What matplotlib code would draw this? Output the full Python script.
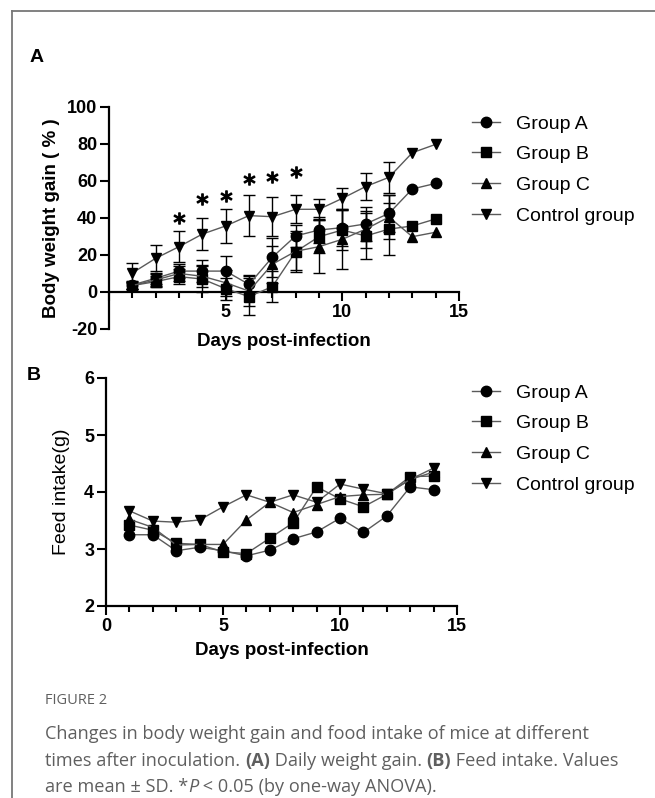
import numpy as np
import matplotlib.pyplot as plt
from matplotlib.lines import Line2D
from matplotlib.ticker import MultipleLocator

plt.rcParams["axes.unicode_minus"] = False

### Data ###
days = np.arange(1, 15)
groups = ["Group A", "Group B", "Group C", "Control group"]
markers = ["o", "s", "^", "v"]

# (A) body weight gain (%), mean and SD
gain_a = [3.8, 7.4, 11.3, 11.3, 11.3, 4.1, 18.8, 30.3, 33.5, 34.8, 36.8, 42.5, 55.7, 58.7]
gain_b = [3.5, 5.6, 8.3, 7.0, 1.8, -2.5, 2.9, 21.8, 29.9, 33.5, 30.3, 34.0, 35.7, 39.5]
gain_c = [3.5, 6.5, 10.0, 8.5, 5.0, 0.5, 15.0, 22.0, 24.5, 28.5, 34.0, 40.5, 29.9, 32.3]
gain_ctrl = [10.3, 18.2, 24.5, 31.3, 35.7, 41.3, 40.7, 44.7, 44.7, 50.6, 57.0, 62.0, 75.3, 79.8]
sd_a = [2, 3, 4, 6, 8, 5, 10.5, 6, 7, 10, 9, 10, 0, 0]
sd_b = [2, 3, 4, 7, 6, 10, 8.5, 11, 9, 11, 12.5, 14, 0, 0]
sd_c = [2, 3, 4, 6, 7, 8, 10, 10, 14.5, 16, 10, 12, 0, 0]
sd_ctrl = [5.5, 7, 8.5, 8.5, 9, 11, 10.5, 7.5, 5.5, 5.5, 7.5, 8.5, 0, 0]
star_days = [3, 4, 5, 6, 7, 8]
star_y = [40, 50, 52, 61, 62.3, 65]

# (B) feed intake (g)
feed_a = [3.25, 3.25, 2.97, 3.03, 2.97, 2.88, 2.98, 3.18, 3.30, 3.54, 3.29, 3.58, 4.09, 4.04]
feed_b = [3.42, 3.33, 3.10, 3.08, 2.95, 2.92, 3.19, 3.46, 4.09, 3.88, 3.74, 3.96, 4.27, 4.28]
feed_c = [3.52, 3.38, 3.07, 3.08, 3.08, 3.51, 3.82, 3.64, 3.78, 3.92, 3.95, 3.96, 4.22, 4.35]
feed_ctrl = [3.67, 3.49, 3.47, 3.51, 3.74, 3.95, 3.82, 3.95, 3.82, 4.14, 4.05, 3.97, 4.22, 4.42]

FONT = "Liberation Sans"
LINE_C = "#5a5a5a"
W, H = 655, 798

fig = plt.figure(figsize=(W / 100, H / 100), dpi=100)


def px(x0, y0, x1, y1):
    # pixel box -> figure fraction rect
    return [x0 / W, 1 - y1 / H, (x1 - x0) / W, (y1 - y0) / H]


def style_axes(ax):
    for s in ["top", "right"]:
        ax.spines[s].set_visible(False)
    for s in ["left", "bottom"]:
        ax.spines[s].set_linewidth(1.6)
    ax.xaxis.set_minor_locator(MultipleLocator(1))
    ax.tick_params(which="major", length=6.5, width=1.5, direction="out", pad=2)
    ax.tick_params(which="minor", length=4.5, width=1.5, direction="out")
    for lab in ax.get_xticklabels() + ax.get_yticklabels():
        lab.set_fontfamily(FONT)
        lab.set_fontweight("bold")
        lab.set_fontsize(13)


def add_legend(ax, x, y):
    handles = [Line2D([], [], color=LINE_C, lw=1, marker=m, ms=7.5,
                      mfc="k", mec="k") for m in markers]
    ax.legend(handles, groups, loc="upper left", bbox_to_anchor=(x / W, 1 - y / H),
              bbox_transform=fig.transFigure, frameon=False,
              prop={"family": FONT, "size": 14}, handlelength=1.45,
              handletextpad=0.8, labelspacing=0.67, borderpad=0, borderaxespad=0)


### Panel A ###
axA = fig.add_axes(px(109, 107, 459, 329))
means = [gain_a, gain_b, gain_c, gain_ctrl]
sds = [sd_a, sd_b, sd_c, sd_ctrl]
for m, mean, sd in zip(markers, means, sds):
    mean = np.array(mean)
    sd = np.array(sd)
    keep = sd > 0
    axA.errorbar(days[keep], mean[keep], yerr=sd[keep], fmt="none", ecolor="k",
                 elinewidth=1, capsize=4, capthick=1, zorder=2)
    axA.plot(days, mean, color=LINE_C, lw=1, marker=m, ms=7.5, mfc="k", mec="k",
             zorder=3)
axA.plot(star_days, star_y, ls="none", marker="$*$", ms=8, color="k")
axA.set_xlim(0, 15)
axA.set_ylim(-20, 100)
axA.spines["bottom"].set_position(("data", 0))
axA.set_xticks([0, 5, 10, 15])
axA.set_xticklabels(["", "5", "10", "15"])
axA.set_yticks(range(-20, 101, 20))
style_axes(axA)
axA.set_ylabel("Body weight gain ( % )", fontfamily=FONT, fontweight="bold",
               fontsize=13.5, labelpad=5)
fig.text(284 / W, 1 - 341 / H, "Days post-infection", ha="center", va="center",
         fontfamily=FONT, fontweight="bold", fontsize=13.5)
add_legend(axA, 472, 115)

### Panel B ###
axB = fig.add_axes(px(106, 378, 457, 606))
for m, mean in zip(markers, [feed_a, feed_b, feed_c, feed_ctrl]):
    axB.plot(days, mean, color=LINE_C, lw=1, marker=m, ms=7.5, mfc="k", mec="k")
axB.set_xlim(0, 15)
axB.set_ylim(2, 6)
axB.set_xticks([0, 5, 10, 15])
axB.set_yticks([2, 3, 4, 5, 6])
style_axes(axB)
axB.set_ylabel("Feed intake(g)", fontfamily=FONT, fontsize=14, labelpad=10)
axB.set_xlabel("Days post-infection", fontfamily=FONT, fontweight="bold",
               fontsize=13.5, labelpad=5)
add_legend(axB, 472, 384)

# panel letters
fig.text(30 / W, 1 - 57 / H, "A", fontfamily=FONT, fontweight="bold", fontsize=14,
         va="center")
fig.text(27 / W, 1 - 376 / H, "B", fontfamily=FONT, fontweight="bold", fontsize=14,
         va="center")

# page frame lines
fig.add_artist(Line2D([12 / W, 1], [1 - 11 / H] * 2, transform=fig.transFigure,
                      color="#777777", lw=1.3))
fig.add_artist(Line2D([12 / W] * 2, [0, 1 - 11 / H], transform=fig.transFigure,
                      color="#777777", lw=1.3))

### Caption ###
CAP = "Open Sans"
CAP_C = "#5f5f5f"
cap_ax = fig.add_axes([0, 0, 1, 1])
cap_ax.axis("off")
fig.text(45 / W, 1 - 701 / H, "FIGURE 2", fontfamily=CAP, fontsize=10.5,
         color=CAP_C, va="center")


def rich_line(y, parts):
    prev = None
    for txt, extra in parts:
        kw = dict(fontfamily=CAP, fontsize=13.1, color=CAP_C, va="bottom", ha="left")
        kw.update(extra)
        if prev is None:
            prev = cap_ax.text(45 / W, 1 - y / H, txt, transform=fig.transFigure, **kw)
        else:
            prev = cap_ax.annotate(txt, xy=(1, 0), xycoords=prev, **kw)


bold = {"fontweight": "bold"}
rich_line(743, [("Changes in body weight gain and food intake of mice at different", {})])
rich_line(770, [("times after inoculation. ", {}), ("(A)", bold),
                (" Daily weight gain. ", {}), ("(B)", bold),
                (" Feed intake. Values", {})])
rich_line(796, [("are mean \u00b1 SD. *", {}), ("P", {"fontstyle": "italic"}),
                (" < 0.05 (by one-way ANOVA).", {})])

fig.savefig("out.png", dpi=100)
